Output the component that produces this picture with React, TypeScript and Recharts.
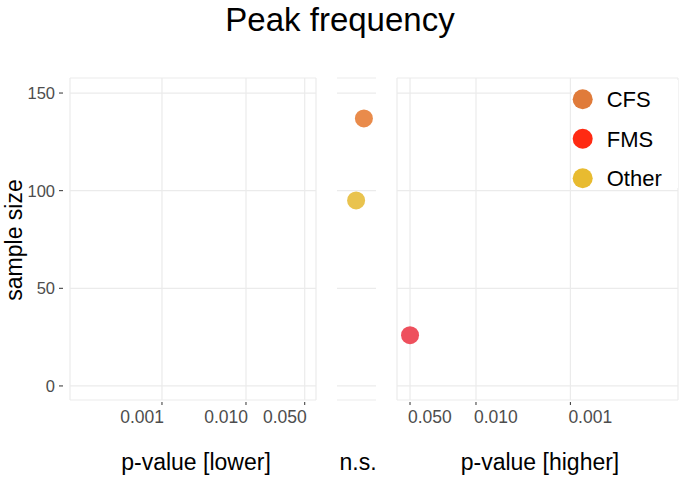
import { ScatterChart, Scatter, XAxis, YAxis, CartesianGrid, Legend } from 'recharts';

const GROUPS = ['CFS', 'FMS', 'Other'];
const LEGEND_COLORS = ['#E07B3A', '#FF2A12', '#E8BB30'];
const POINT_COLORS = ['#E98B4B', '#EE505D', '#E9C34E'];

// one study per row
const STUDY_GROUP = ['CFS', 'FMS', 'Other'];
const STUDY_PANEL = ['ns', 'higher', 'ns'];
const STUDY_P = [null, 0.05, null];
const STUDY_JITTER = [0.69, null, 0.49]; // horizontal jitter inside the n.s. strip
const STUDY_N = [137, 26, 95];

const Y_TICKS = [0, 50, 100, 150];
const P_TICKS_LOWER = [0.001, 0.01, 0.05];
const P_TICKS_HIGHER = [0.05, 0.01, 0.001];

const Y_DOMAIN: [number, number] = [-7.2, 157.7];
const GRID = '#EBEBEB';
const FONT = "'Liberation Sans', Arial, Helvetica, sans-serif";

function pointsFor(panel: string, group: string) {
  const out: { p: number | null; j: number | null; n: number }[] = [];
  STUDY_GROUP.forEach((g, i) => {
    if (g === group && STUDY_PANEL[i] === panel) {
      out.push({ p: STUDY_P[i], j: STUDY_JITTER[i], n: STUDY_N[i] });
    }
  });
  return out;
}

const dot = (color: string) => (props: any) =>
  <circle cx={props.cx} cy={props.cy} r={9} fill={color} />;

const YTick = ({ x, y, payload }: any) => (
  <g>
    <line x1={x - 9} x2={x - 5} y1={y} y2={y} stroke="#333" strokeWidth={1} />
    <text x={x - 13} y={y + 5.9} textAnchor="end" fontSize={16.5} fill="#4D4D4D">
      {payload.value}
    </text>
  </g>
);

const XTickLower = ({ x, y, payload }: any) => (
  <g>
    <line x1={x} x2={x} y1={y} y2={y + 3} stroke="#333" strokeWidth={1} />
    <text x={x + 2} y={y + 21} textAnchor="end" fontSize={17.5} fill="#4D4D4D">
      {Number(payload.value).toFixed(3)}
    </text>
  </g>
);

const XTickHigher = ({ x, y, payload }: any) => (
  <g>
    <line x1={x} x2={x} y1={y} y2={y + 3} stroke="#333" strokeWidth={1} />
    <text x={x - 2} y={y + 21} textAnchor="start" fontSize={17.5} fill="#4D4D4D">
      {Number(payload.value).toFixed(3)}
    </text>
  </g>
);

const renderLegend = () => (
  <svg width={106} height={118} style={{ display: 'block', overflow: 'visible' }}>
    <rect x={0} y={0} width={106} height={108} fill="#fff" />
    {GROUPS.map((g, i) => (
      <g key={g}>
        <circle cx={10.7} cy={19.3 + i * 39.5} r={10} fill={LEGEND_COLORS[i]} />
        <text x={34.7} y={19.3 + i * 39.5 + 7.9} fontSize={22} fill="#000">
          {g}
        </text>
      </g>
    ))}
  </svg>
);

export default function App() {
  return (
    <div
      style={{
        position: 'absolute',
        left: 0,
        top: 0,
        width: 679,
        height: 479,
        background: '#fff',
        fontFamily: FONT,
      }}
    >
      {/* p-value [lower] */}
      <div style={{ position: 'absolute', left: 0, top: 0 }}>
        <ScatterChart width={320} height={479} margin={{ top: 78, right: 4, bottom: 49, left: 0 }}>
          <CartesianGrid stroke={GRID} strokeWidth={1.2} />
          <XAxis
            type="number"
            dataKey="p"
            scale="log"
            domain={[8.04e-5, 0.0681]}
            ticks={P_TICKS_LOWER}
            allowDataOverflow
            height={30}
            axisLine={false}
            tickLine={false}
            tickSize={0}
            tick={<XTickLower />}
          />
          <YAxis
            type="number"
            dataKey="n"
            domain={Y_DOMAIN}
            ticks={Y_TICKS}
            allowDataOverflow
            width={70}
            axisLine={false}
            tickLine={false}
            tickSize={0}
            tick={<YTick />}
          />
          {GROUPS.map((g, i) => (
            <Scatter
              key={g}
              name={g}
              data={pointsFor('lower', g)}
              fill={POINT_COLORS[i]}
              shape={dot(POINT_COLORS[i])}
              isAnimationActive={false}
            />
          ))}
        </ScatterChart>
      </div>

      {/* n.s. */}
      <div style={{ position: 'absolute', left: 330, top: 0 }}>
        <ScatterChart width={50} height={479} margin={{ top: 78, right: 4, bottom: 79, left: 7 }}>
          <CartesianGrid stroke={GRID} strokeWidth={1.2} vertical={false} />
          <XAxis type="number" dataKey="j" domain={[0, 1]} hide />
          <YAxis type="number" dataKey="n" domain={Y_DOMAIN} ticks={Y_TICKS} allowDataOverflow hide />
          {GROUPS.map((g, i) => (
            <Scatter
              key={g}
              name={g}
              data={pointsFor('ns', g)}
              fill={POINT_COLORS[i]}
              shape={dot(POINT_COLORS[i])}
              isAnimationActive={false}
            />
          ))}
        </ScatterChart>
      </div>

      {/* p-value [higher] */}
      <div style={{ position: 'absolute', left: 380, top: 0 }}>
        <ScatterChart width={299} height={479} margin={{ top: 78, right: 1, bottom: 49, left: 17 }}>
          <CartesianGrid stroke={GRID} strokeWidth={1.2} />
          <XAxis
            type="number"
            dataKey="p"
            scale="log"
            reversed
            domain={[7.24e-5, 0.0687]}
            ticks={P_TICKS_HIGHER}
            allowDataOverflow
            height={30}
            axisLine={false}
            tickLine={false}
            tickSize={0}
            tick={<XTickHigher />}
          />
          <YAxis type="number" dataKey="n" domain={Y_DOMAIN} ticks={Y_TICKS} allowDataOverflow hide />
          {GROUPS.map((g, i) => (
            <Scatter
              key={g}
              name={g}
              data={pointsFor('higher', g)}
              fill={POINT_COLORS[i]}
              shape={dot(POINT_COLORS[i])}
              isAnimationActive={false}
            />
          ))}
          <Legend
            layout="vertical"
            align="center"
            verticalAlign="middle"
            content={renderLegend}
            wrapperStyle={{ left: 192, top: 80, width: 106, height: 118 }}
          />
        </ScatterChart>
      </div>

      {/* titles */}
      <svg
        width={679}
        height={479}
        style={{ position: 'absolute', left: 0, top: 0, pointerEvents: 'none', overflow: 'visible' }}
      >
        <text x={340} y={30.5} textAnchor="middle" fontSize={33} fill="#000">
          Peak frequency
        </text>
        <text x={0} y={0} transform="translate(21.5 240) rotate(-90)" textAnchor="middle" fontSize={23} fill="#000">
          sample size
        </text>
        <text x={196} y={470} textAnchor="middle" fontSize={23} fill="#000">
          p-value [lower]
        </text>
        <text x={358} y={470} textAnchor="middle" fontSize={23} fill="#000">
          n.s.
        </text>
        <text x={540} y={470} textAnchor="middle" fontSize={23} fill="#000">
          p-value [higher]
        </text>
      </svg>
    </div>
  );
}
